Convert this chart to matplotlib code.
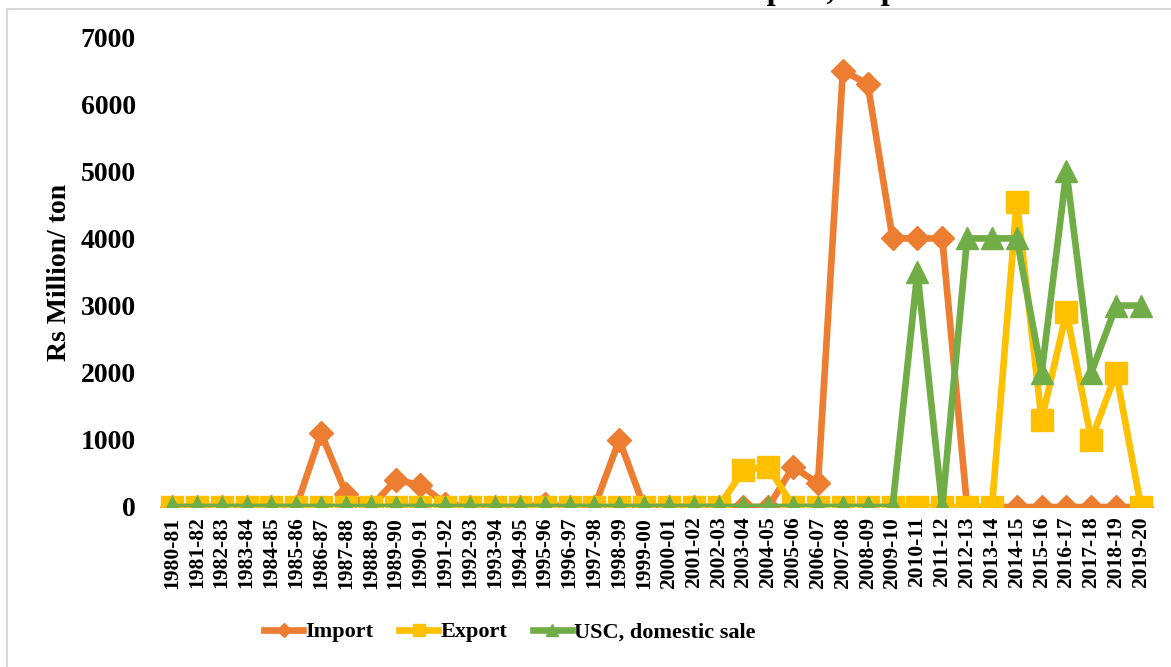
import numpy as np
import matplotlib
matplotlib.use('Agg')
import matplotlib.pyplot as plt
from matplotlib.patches import Rectangle

plt.rcParams['font.family'] = ['Liberation Serif', 'DejaVu Serif']
plt.rcParams['font.weight'] = 'bold'

# data
years = ['1980-81', '1981-82', '1982-83', '1983-84', '1984-85', '1985-86', '1986-87',
         '1987-88', '1988-89', '1989-90', '1990-91', '1991-92', '1992-93', '1993-94',
         '1994-95', '1995-96', '1996-97', '1997-98', '1998-99', '1999-00', '2000-01',
         '2001-02', '2002-03', '2003-04', '2004-05', '2005-06', '2006-07', '2007-08',
         '2008-09', '2009-10', '2010-11', '2011-12', '2012-13', '2013-14', '2014-15',
         '2015-16', '2016-17', '2017-18', '2018-19', '2019-20']

imports = [0, 0, 0, 0, 0, 0, 1100, 200, 0, 400, 330, 50, 0, 0, 0, 40, 0, 0, 1000, 0,
           0, 0, 0, 0, 0, 600, 350, 6500, 6300, 4000, 4000, 4000, 0, 0, 0, 0, 0, 0, 0, 0]
exports = [0, 0, 0, 0, 0, 0, 0, 0, 0, 0, 0, 0, 0, 0, 0, 0, 0, 0, 0, 0,
           0, 0, 0, 550, 600, 0, 0, 0, 0, 0, 0, 0, 0, 0, 4550, 1300, 2900, 1000, 2000, 0]
usc_sale = [0, 0, 0, 0, 0, 0, 0, 0, 0, 0, 0, 0, 0, 0, 0, 0, 0, 0, 0, 0,
            0, 0, 0, 0, 0, 0, 0, 0, 0, 0, 3500, 0, 4000, 4000, 4000, 2000, 5000, 2000, 3000, 3000]

x = np.arange(len(years))

fig = plt.figure(figsize=(11.71, 6.67), dpi=100)
ax = fig.add_axes([0.1363, 0.2399, 0.8487, 0.7046])

# outer chart border (only top/left edges are inside the picture)
fig.patches.append(Rectangle((7 / 1171, -0.05), 1.2, 1 - 9 / 667 + 0.05,
                             transform=fig.transFigure, fill=False,
                             edgecolor='#d9d9d9', lw=1.5))

# title, mostly cut off by the top edge
fig.text(940 / 1171, 1.0015, 'Trends in Rubber Import, Export', ha='right',
         va='baseline', fontsize=23.5, fontweight='bold')

ax.plot(x, imports, color='#ED7D31', lw=4.8, marker='D', ms=12.5, label='Import', zorder=2)
ax.plot(x, exports, color='#FFC000', lw=4.8, marker='s', ms=15.5, label='Export', zorder=3)
ax.plot(x, usc_sale, color='#70AD47', lw=4.8, marker='^', ms=16, label='USC, domestic sale', zorder=4)

ax.set_xlim(-0.5, len(years) - 0.5)
ax.set_ylim(0, 7000)
ax.set_yticks(np.arange(0, 7001, 1000))
ax.set_xticks(x)
ax.set_xticklabels(years, rotation=90, fontsize=15.5, fontweight='bold', va='top')
ax.tick_params(axis='y', length=0, pad=17, labelsize=20)
ax.tick_params(axis='x', length=0, pad=7)
for lab in ax.get_yticklabels():
    lab.set_fontweight('bold')

for s in ax.spines.values():
    s.set_visible(False)

ax.set_ylabel('Rs Million/ ton', fontsize=20, fontweight='bold')
ax.yaxis.set_label_coords(-0.088, 0.5)

leg = fig.legend(loc='center', bbox_to_anchor=(0.4355, 1 - 632 / 667), ncol=3,
                 frameon=False, fontsize=16, markerscale=0.55, handlelength=1.75,
                 handletextpad=0.1, columnspacing=1.15)
for t in leg.get_texts():
    t.set_fontweight('bold')

fig.savefig('out.png', dpi=100)
